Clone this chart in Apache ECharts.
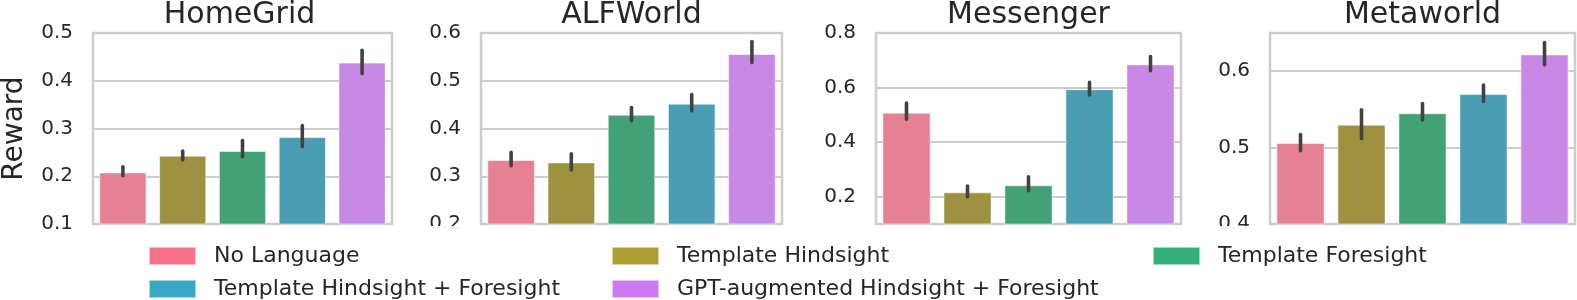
<!DOCTYPE html>
<html>
<head>
<meta charset="utf-8">
<script src="https://cdn.jsdelivr.net/npm/echarts@6/dist/echarts.min.js"></script>
<style>
html,body{margin:0;padding:0;background:#fff;}
#chart{width:1577px;height:300px;}
</style>
</head>
<body>
<div id="chart"></div>
<script>
const categories = ['No Language', 'Template Hindsight', 'Template Foresight', 'Template Hindsight + Foresight', 'GPT-augmented Hindsight + Foresight'];
const envs = ['HomeGrid', 'ALFWorld', 'Messenger', 'Metaworld'];

const homegridMean = [0.208, 0.243, 0.253, 0.282, 0.438];
const homegridLow  = [0.201, 0.234, 0.241, 0.262, 0.415];
const homegridHigh = [0.220, 0.253, 0.275, 0.306, 0.464];

const alfworldMean = [0.334, 0.329, 0.429, 0.452, 0.556];
const alfworldLow  = [0.322, 0.313, 0.416, 0.437, 0.538];
const alfworldHigh = [0.350, 0.347, 0.444, 0.471, 0.582];

const messengerMean = [0.508, 0.216, 0.242, 0.594, 0.685];
const messengerLow  = [0.484, 0.200, 0.222, 0.573, 0.662];
const messengerHigh = [0.543, 0.239, 0.273, 0.619, 0.714];

const metaworldMean = [0.506, 0.530, 0.545, 0.570, 0.622];
const metaworldLow  = [0.496, 0.512, 0.536, 0.5605, 0.6085];
const metaworldHigh = [0.517, 0.5495, 0.5575, 0.582, 0.6375];

const homegridTicks = [0.1, 0.2, 0.3, 0.4, 0.5];
const alfworldTicks = [0.2, 0.3, 0.4, 0.5, 0.6];
const messengerTicks = [0.2, 0.4, 0.6, 0.8];
const metaworldTicks = [0.4, 0.5, 0.6];

const yMin = [0.1, 0.2, 0.1, 0.4];
const yMax = [0.5, 0.6, 0.8, 0.65];

const means = [homegridMean, alfworldMean, messengerMean, metaworldMean];
const lows = [homegridLow, alfworldLow, messengerLow, metaworldLow];
const highs = [homegridHigh, alfworldHigh, messengerHigh, metaworldHigh];
const ticks = [homegridTicks, alfworldTicks, messengerTicks, metaworldTicks];

const barColors = ['#e68193', '#9e9241', '#43a178', '#4a9eb4', '#c789e5'];
const legendColors = ['#f77189', '#ae9d31', '#33b07a', '#38a9c5', '#cc7af4'];

const FONT = 'DejaVu Sans';
const TXT = '#262626';
const gridLefts = [87, 481, 876, 1270];
const gridWidths = [305, 301, 305, 305];

const grids = [], xAxes = [], yAxes = [], series = [], titles = [];
envs.forEach((env, g) => {
  grids.push({left: gridLefts[g], width: gridWidths[g], top: 33, height: 191, show: true,
    borderColor: '#cccccc', borderWidth: 2.5, backgroundColor: 'transparent'});
  titles.push({text: env, left: gridLefts[g] + gridWidths[g] / 2, top: 0, textAlign: 'center', padding: 0,
    textStyle: {fontFamily: FONT, fontSize: 30, fontWeight: 'normal', color: TXT}});
  xAxes.push({type: 'category', gridIndex: g, data: categories, boundaryGap: true,
    axisLine: {show: false}, axisTick: {show: false}, axisLabel: {show: false}, splitLine: {show: false}});
  const tk = ticks[g];
  const lineColors = [];
  for (let v = yMin[g]; v <= yMax[g] + 1e-9; v += 0.1) {
    const on = tk.some(t => Math.abs(t - v) < 1e-6);
    lineColors.push(on ? '#cccccc' : 'rgba(0,0,0,0)');
  }
  yAxes.push({type: 'value', gridIndex: g, min: yMin[g], max: yMax[g], interval: 0.1,
    name: g === 0 ? 'Reward' : '', nameLocation: 'middle', nameGap: 64, nameRotate: 90,
    nameTextStyle: {fontFamily: FONT, fontSize: 28, color: TXT},
    axisLine: {show: false}, axisTick: {show: false},
    axisLabel: {margin: 20, fontFamily: FONT, fontSize: 20, color: TXT,
      formatter: v => tk.some(t => Math.abs(t - v) < 1e-6) ? v.toFixed(1) : ''},
    splitLine: {show: true, lineStyle: {color: lineColors, width: 2}}});
  categories.forEach((c, i) => {
    const d = categories.map((_, j) => j === i ? means[g][j] : '-');
    series.push({type: 'bar', name: c, xAxisIndex: g, yAxisIndex: g, data: d,
      barWidth: '79%', barGap: '-100%', clip: true,
      itemStyle: {color: barColors[i], borderColor: 'rgba(255,255,255,0.55)', borderWidth: 1}, z: 2});
  });
  series.push({type: 'custom', xAxisIndex: g, yAxisIndex: g, z: 5,
    data: categories.map((_, j) => [j, lows[g][j], highs[g][j]]),
    encode: {x: 0, y: [1, 2]},
    renderItem: (params, api) => {
      const p1 = api.coord([api.value(0), api.value(1)]);
      const p2 = api.coord([api.value(0), api.value(2)]);
      return {type: 'line', shape: {x1: p1[0], y1: p1[1], x2: p2[0], y2: p2[1]},
        style: {stroke: '#424242', lineWidth: 3.6, lineCap: 'round'}};
    }});
});

const legendLefts = [148, 611, 1152, 148, 611];
const legendTops = [245, 245, 245, 278, 278];
const legendOrder = [0, 1, 2, 3, 4];
const legends = legendOrder.map((i, k) => ({
  left: legendLefts[k], top: legendTops[k], orient: 'horizontal',
  itemWidth: 47, itemHeight: 18, icon: 'rect', selectedMode: false, z: 100, padding: 0,
  textStyle: {fontFamily: FONT, fontSize: 22, color: TXT, padding: [0, 0, 0, 13]},
  data: [{name: categories[i], itemStyle: {color: legendColors[i]}}]
}));

const chart = echarts.init(document.getElementById('chart'), null, {renderer: 'canvas'});
chart.setOption({
  animation: false,
  backgroundColor: '#ffffff',
  title: titles,
  grid: grids,
  xAxis: xAxes,
  yAxis: yAxes,
  legend: legends,
  graphic: {elements: [{type: 'rect', z: 50, shape: {x: 134, y: 226, width: 1308, height: 74, r: 4},
    style: {fill: 'rgba(255,255,255,0.92)'}}]},
  series: series
});
</script>
</body>
</html>
